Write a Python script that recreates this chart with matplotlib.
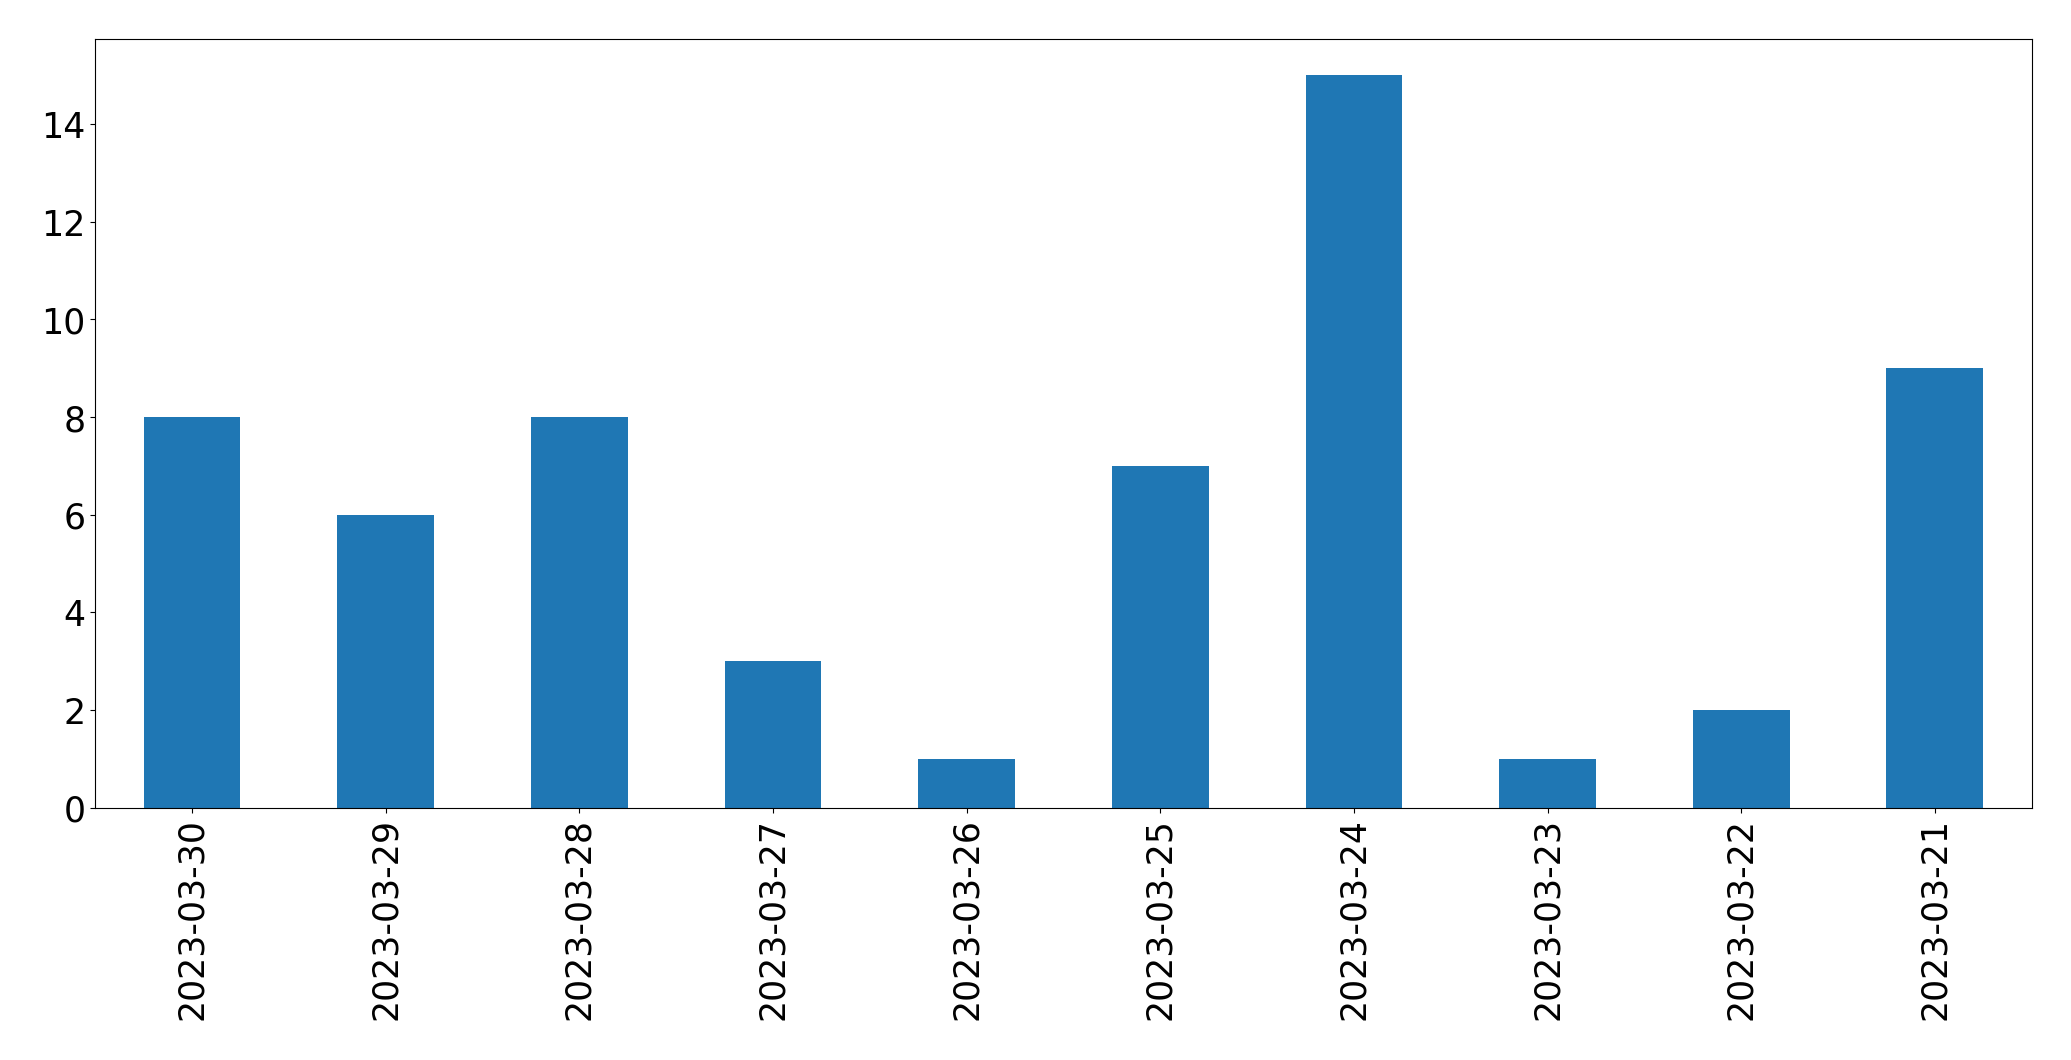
import pandas as pd
import matplotlib.pyplot as plt

# daily counts, newest first
dates = ['2023-03-30', '2023-03-29', '2023-03-28', '2023-03-27', '2023-03-26',
         '2023-03-25', '2023-03-24', '2023-03-23', '2023-03-22', '2023-03-21']
counts = [8, 6, 8, 3, 1, 7, 15, 1, 2, 9]

s = pd.Series(counts, index=dates)

fig, ax = plt.subplots(figsize=(20.71, 10.605), dpi=100)
s.plot(kind='bar', ax=ax, color='#1f77b4', fontsize=25)
plt.subplots_adjust(left=0.046, right=0.981, top=0.963, bottom=0.238)

plt.savefig('out.png', dpi=100)
